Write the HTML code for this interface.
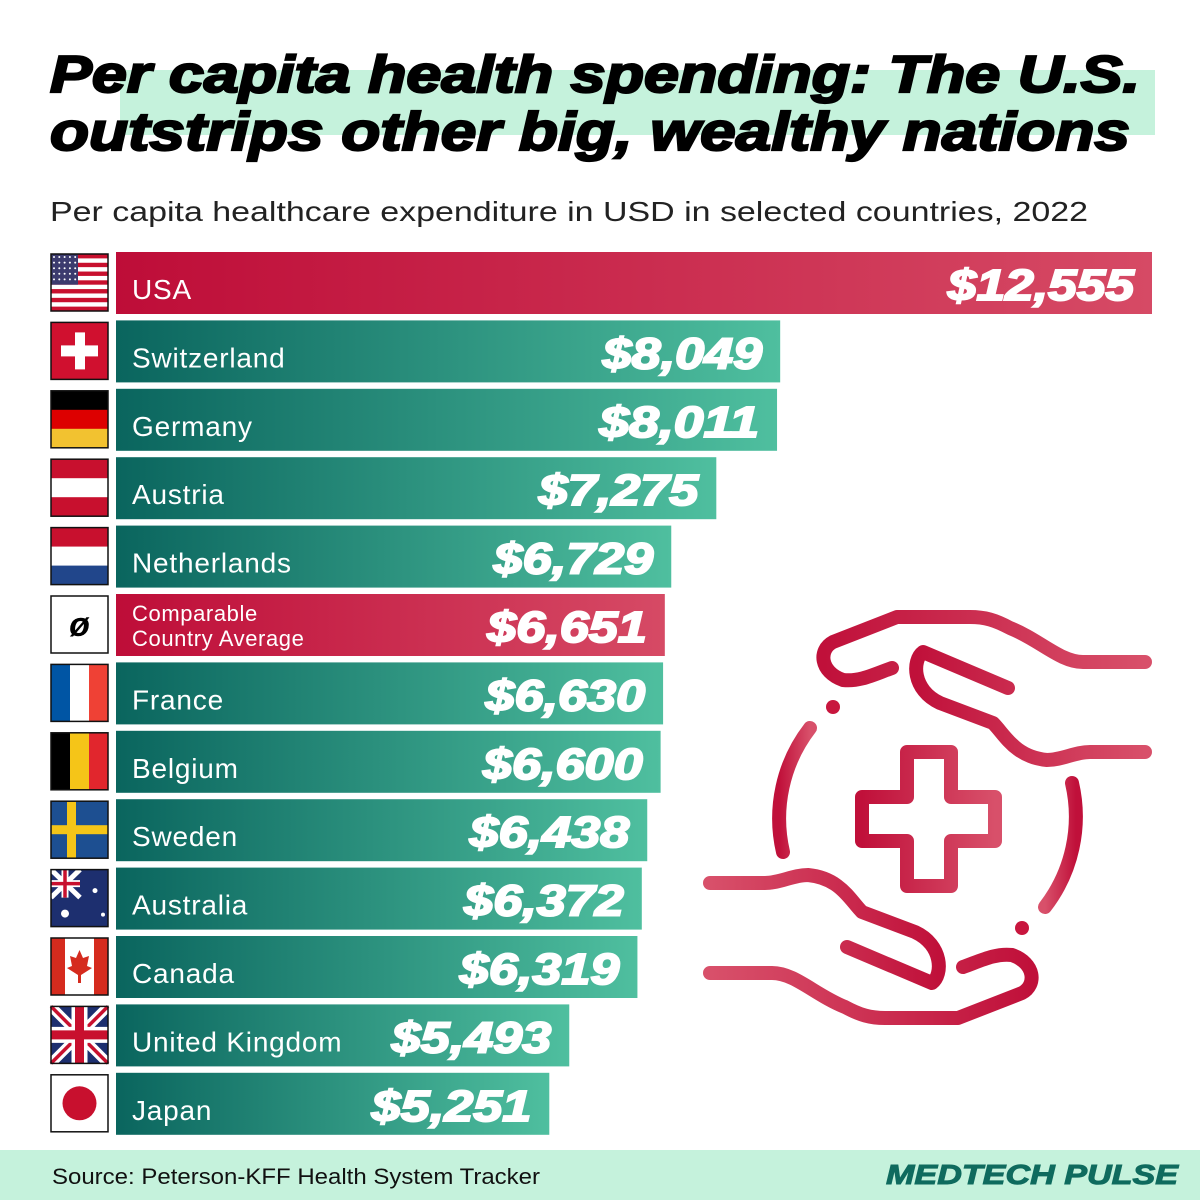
<!DOCTYPE html>
<html><head><meta charset="utf-8"><style>
html,body{margin:0;padding:0;background:#fff}
svg{display:block}
text{font-family:"Liberation Sans",sans-serif}
</style></head><body>
<svg id="chart" width="1200" height="1200" viewBox="0 0 1200 1200">
<defs>
<linearGradient id="teal" x1="0" x2="1" y1="0" y2="0"><stop offset="0" stop-color="#0a655e"/><stop offset="1" stop-color="#4fbf9f"/></linearGradient>
<linearGradient id="red" x1="0" x2="1" y1="0" y2="0"><stop offset="0" stop-color="#be0d38"/><stop offset="1" stop-color="#d64a65"/></linearGradient>
<linearGradient id="iconred" x1="0" x2="1" y1="0" y2="0"><stop offset="0" stop-color="#c0103a"/><stop offset="1" stop-color="#d8506a"/></linearGradient>
</defs>
<rect x="120" y="70" width="1035" height="65" fill="#c5f2dc"/>
<text x="50" y="92" font-size="52" font-weight="bold" font-style="italic" stroke="#000" stroke-width="2.2" textLength="1090" lengthAdjust="spacingAndGlyphs" fill="#000">Per capita health spending: The U.S.</text>
<text x="50" y="150" font-size="54" font-weight="bold" font-style="italic" stroke="#000" stroke-width="2.2" textLength="1080" lengthAdjust="spacingAndGlyphs" fill="#000">outstrips other big, wealthy nations</text>
<text x="50" y="221" font-size="28" textLength="1038" lengthAdjust="spacingAndGlyphs" fill="#222">Per capita healthcare expenditure in USD in selected countries, 2022</text>
<g id="bars"></g>
<g id="flags"></g>
<g fill="none" stroke="url(#iconred)" stroke-width="14" stroke-linecap="round" stroke-linejoin="round">
  <g id="hand">
    <path d="M1145,662 L1083,662 C1060,662 1040,640 1010,628 C995,620 985,617 970,617 L897,617 L833,642 C818,650 820,672 843,680 C860,682 875,674 892,668"/>
    <path d="M1008,688 L923,652 C912,660 912,690 940,703 L993,723 C1005,735 1015,757 1047,760 C1062,760 1075,752 1090,752 L1145,752"/>
    <circle cx="833" cy="707" r="7" fill="#c8163e" stroke="none"/>
    <path d="M810,728 A148,148 0 0 0 783,852"/>
  </g>
  <use href="#hand" transform="rotate(180 927.5 817.5)"/>
  <path d="M907,752 L951,752 L951,797 L995,797 L995,841 L951,841 L951,886 L907,886 L907,841 L862,841 L862,797 L907,797 Z"/>
</g>
<rect x="0" y="1150" width="1200" height="50" fill="#c5f2dc"/>
<text x="52" y="1184" font-size="22" fill="#111" textLength="488" lengthAdjust="spacingAndGlyphs">Source: Peterson-KFF Health System Tracker</text>
<text x="1178" y="1184" font-size="28" font-weight="bold" font-style="italic" stroke="#0f6b5e" stroke-width="1" text-anchor="end" fill="#0f6b5e" textLength="292" lengthAdjust="spacingAndGlyphs">MEDTECH PULSE</text>
</svg>
<script>
const categories = ["USA","Switzerland","Germany","Austria","Netherlands","Comparable Country Average","France","Belgium","Sweden","Australia","Canada","United Kingdom","Japan"];
const values = [12555,8049,8011,7275,6729,6651,6630,6600,6438,6372,6319,5493,5251];
const valueLabels = ["$12,555","$8,049","$8,011","$7,275","$6,729","$6,651","$6,630","$6,600","$6,438","$6,372","$6,319","$5,493","$5,251"];
const highlighted = ["USA","Comparable Country Average"];

const NS = "http://www.w3.org/2000/svg";
const x0 = 116, xMaxPx = 1152, vMax = 12555;
function xScale(v){ return x0 + (v / vMax) * (xMaxPx - x0); }
const top0 = 252, step = 68.4, barH = 62;
function yScale(i){ return top0 + i * step; }
function mk(tag, attrs, parent){ const e=document.createElementNS(NS,tag); for(const k in attrs) e.setAttribute(k,attrs[k]); parent.appendChild(e); return e; }

const bars = document.getElementById('bars');
categories.forEach((c,i)=>{
  const y = yScale(i), xe = xScale(values[i]);
  const isRed = highlighted.includes(c);
  const r = mk('rect',{x:x0,y:y,width:xe-x0,height:barH,fill:isRed?'url(#red)':'url(#teal)'},bars);
  
  
  if (c === "Comparable Country Average") {
    const t1 = mk('text',{x:132,y:y+27,'font-size':22,'letter-spacing':0.6,fill:'#fff'},bars); t1.textContent="Comparable";
    
    
    const t2 = mk('text',{x:132,y:y+52,'font-size':22,'letter-spacing':0.6,fill:'#fff'},bars); t2.textContent="Country Average";
    
    
  } else {
    const t = mk('text',{x:132,y:y+47,'font-size':28,'letter-spacing':0.8,fill:'#fff'},bars); t.textContent=c;
    
    
  }
  const lbl = valueLabels[i];
  const vt = mk('text',{x:xe-18,y:y+48,'font-size':44,'font-weight':'bold','font-style':'italic','text-anchor':'end',fill:'#fff',stroke:'#fff','stroke-width':2,textLength:lbl.length*26.6,lengthAdjust:'spacingAndGlyphs'},bars);
  vt.textContent = lbl;
  
  
});

// flags
const flags = document.getElementById('flags');
const fx=51, fw=57, fh=57;
function stripesH(g,y,cols){ const h=fh/cols.length; cols.forEach((c,k)=>mk('rect',{x:fx,y:y+k*h,width:fw,height:h+0.3,fill:c},g)); }
function stripesV(g,y,cols){ const w=fw/cols.length; cols.forEach((c,k)=>mk('rect',{x:fx+k*w,y:y,width:w+0.3,height:fh,fill:c},g)); }
categories.forEach((c,i)=>{
  const y = yScale(i)+2;
  const g = mk('g',{},flags);
  
  
  switch(c){
    case "USA": {
      const cols=[]; for(let k=0;k<13;k++) cols.push(k%2?'#fff':'#c8102e'); stripesH(g,y,cols);
      mk('rect',{x:fx,y:y,width:27,height:fh*7/13,fill:'#3c3b6e'},g);
      for(let r=0;r<5;r++)for(let q=0;q<5;q++) mk('circle',{cx:fx+3+q*5.3,cy:y+3+r*5.6,r:1,fill:'#fff'},g);
      break;}
    case "Switzerland":
      mk('rect',{x:fx,y:y,width:fw,height:fh,fill:'#d0102f'},g);
      mk('rect',{x:fx+24,y:y+10,width:10,height:37,fill:'#fff'},g);
      mk('rect',{x:fx+10,y:y+23,width:37,height:11,fill:'#fff'},g); break;
    case "Germany": stripesH(g,y,['#000','#dd0000','#f2c230']); break;
    case "Austria": stripesH(g,y,['#c8102e','#fff','#c8102e']); break;
    case "Netherlands": stripesH(g,y,['#c8102e','#fff','#21468b']); break;
    case "Comparable Country Average":
      mk('rect',{x:fx,y:y,width:fw,height:fh,fill:'#fff'},g);
      mk('text',{x:fx+fw/2,y:y+40,'font-size':34,'font-weight':'bold','font-style':'italic','text-anchor':'middle',fill:'#000'},g).textContent="ø"; break;
    case "France": stripesV(g,y,['#0055a4','#fff','#ef4135']); break;
    case "Belgium": stripesV(g,y,['#000','#f5c518','#e1262d']); break;
    case "Sweden":
      mk('rect',{x:fx,y:y,width:fw,height:fh,fill:'#1d4f91'},g);
      mk('rect',{x:fx+16,y:y,width:9,height:fh,fill:'#f5c518'},g);
      mk('rect',{x:fx,y:y+24,width:fw,height:9,fill:'#f5c518'},g); break;
    case "Australia":
      mk('rect',{x:fx,y:y,width:fw,height:fh,fill:'#1d2f6f'},g);
      mk('path',{d:`M${fx},${y} L${fx+29},${y+28} M${fx+29},${y} L${fx},${y+28}`,stroke:'#fff','stroke-width':5},g);
      mk('path',{d:`M${fx+14},${y} V${y+28} M${fx},${y+14} H${fx+29}`,stroke:'#fff','stroke-width':7},g);
      mk('path',{d:`M${fx+14},${y} V${y+28} M${fx},${y+14} H${fx+29}`,stroke:'#c8102e','stroke-width':3.5},g);
      mk('circle',{cx:fx+44,cy:y+21,r:2.5,fill:'#fff'},g);
      mk('circle',{cx:fx+14,cy:y+44,r:4,fill:'#fff'},g);
      mk('circle',{cx:fx+52,cy:y+45,r:2,fill:'#fff'},g); break;
    case "Canada":
      mk('rect',{x:fx,y:y,width:fw,height:fh,fill:'#fff'},g);
      mk('rect',{x:fx,y:y,width:14,height:fh,fill:'#d52b1e'},g);
      mk('rect',{x:fx+fw-14,y:y,width:14,height:fh,fill:'#d52b1e'},g);
      mk('path',{d:`M${fx+28.5},${y+12} L${fx+32},${y+20} L${fx+38},${y+18} L${fx+36},${y+28} L${fx+41},${y+30} L${fx+30},${y+37} L${fx+30},${y+45} L${fx+27},${y+45} L${fx+27},${y+37} L${fx+16},${y+30} L${fx+21},${y+28} L${fx+19},${y+18} L${fx+25},${y+20} Z`,fill:'#d52b1e'},g); break;
    case "United Kingdom":
      mk('rect',{x:fx,y:y,width:fw,height:fh,fill:'#1d2f6f'},g);
      mk('path',{d:`M${fx},${y} L${fx+fw},${y+fh} M${fx+fw},${y} L${fx},${y+fh}`,stroke:'#fff','stroke-width':10},g);
      mk('path',{d:`M${fx},${y} L${fx+fw},${y+fh} M${fx+fw},${y} L${fx},${y+fh}`,stroke:'#c8102e','stroke-width':3.5},g);
      mk('path',{d:`M${fx+fw/2},${y} V${y+fh} M${fx},${y+fh/2} H${fx+fw}`,stroke:'#fff','stroke-width':16},g);
      mk('path',{d:`M${fx+fw/2},${y} V${y+fh} M${fx},${y+fh/2} H${fx+fw}`,stroke:'#c8102e','stroke-width':9},g); break;
    case "Japan":
      mk('rect',{x:fx,y:y,width:fw,height:fh,fill:'#fff'},g);
      mk('circle',{cx:fx+fw/2,cy:y+fh/2,r:17,fill:'#c8102e'},g); break;
  }
  mk('rect',{x:fx,y:y,width:fw,height:fh,fill:'none',stroke:'#111','stroke-width':1.5},g);
});
</script>
</body></html>
